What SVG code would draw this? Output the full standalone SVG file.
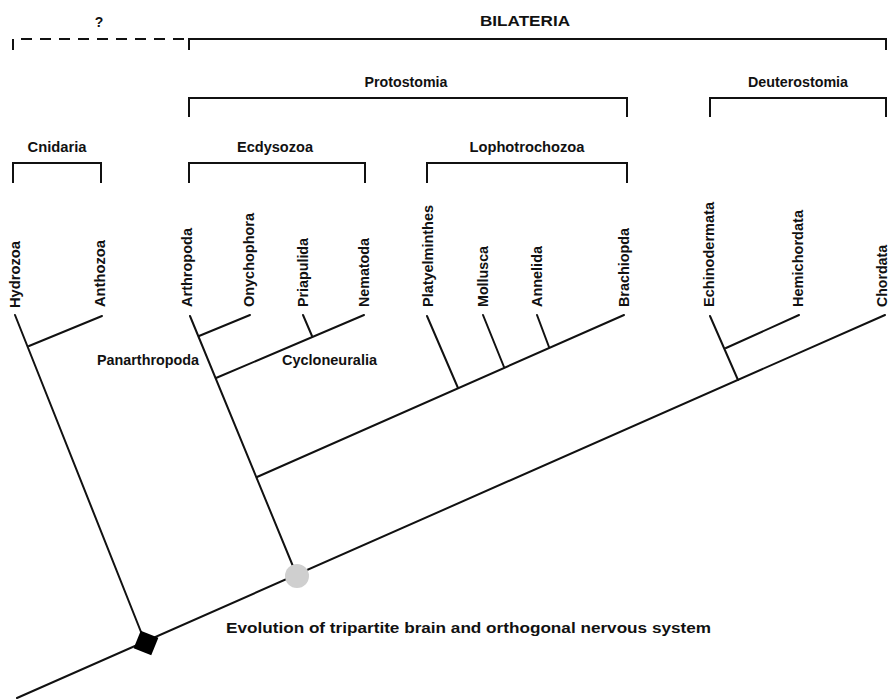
<svg xmlns="http://www.w3.org/2000/svg" width="891" height="700" viewBox="0 0 891 700">
<style>
.t{font-family:"Liberation Sans",Arial,sans-serif;font-weight:bold;font-size:14px;fill:#111}
.b{fill:none;stroke:#111;stroke-width:2}
.e{stroke:#111;stroke-width:2;fill:none;stroke-linecap:round}
</style>
<rect width="891" height="700" fill="#fff"/>
<g id="brackets">
<text class="t" x="99" y="27" text-anchor="middle">?</text>
<path class="b" d="M13,50 V39 H188" stroke-dasharray="11,8"/>
<text class="t" x="525" y="26" text-anchor="middle" font-size="15.5" textLength="90" lengthAdjust="spacingAndGlyphs">BILATERIA</text>
<path class="b" d="M189,50 V39 H886 V50"/>
<text class="t" x="406" y="87" text-anchor="middle" textLength="83" lengthAdjust="spacingAndGlyphs">Protostomia</text>
<path class="b" d="M189,117 V98 H627 V117"/>
<text class="t" x="798" y="87" text-anchor="middle" textLength="100" lengthAdjust="spacingAndGlyphs">Deuterostomia</text>
<path class="b" d="M710,117 V98 H886 V117"/>
<text class="t" x="57" y="152" text-anchor="middle" textLength="59" lengthAdjust="spacingAndGlyphs">Cnidaria</text>
<path class="b" d="M13,183 V163 H101 V183"/>
<text class="t" x="275" y="152" text-anchor="middle" textLength="76" lengthAdjust="spacingAndGlyphs">Ecdysozoa</text>
<path class="b" d="M189,183 V163 H365 V183"/>
<text class="t" x="527" y="152" text-anchor="middle" textLength="115" lengthAdjust="spacingAndGlyphs">Lophotrochozoa</text>
<path class="b" d="M427,183 V163 H627 V183"/>
</g>
<g id="connectors">
<line class="e" x1="17" y1="698" x2="885" y2="315"/>
<line class="e" x1="15" y1="315" x2="145" y2="642"/>
<line class="e" x1="29" y1="346" x2="102" y2="316"/>
<line class="e" x1="190" y1="316" x2="297" y2="576"/>
<line class="e" x1="199" y1="336" x2="250" y2="315"/>
<line class="e" x1="216" y1="378" x2="364" y2="315"/>
<line class="e" x1="312" y1="336" x2="303" y2="315"/>
<line class="e" x1="257" y1="477" x2="624" y2="315"/>
<line class="e" x1="458" y1="388" x2="427" y2="316"/>
<line class="e" x1="504" y1="367" x2="483" y2="315"/>
<line class="e" x1="549" y1="347" x2="537" y2="315"/>
<line class="e" x1="738" y1="380" x2="710" y2="316"/>
<line class="e" x1="726" y1="348" x2="799" y2="315"/>
</g>
<g id="n-cnidaria-root"><rect x="-9.5" y="-9.5" width="19" height="19" fill="#000" transform="translate(146,643) rotate(22)"/></g>
<g id="n-bilateria-root"><circle cx="297" cy="576" r="12" fill="#cfcfcf"/></g>
<g id="taxa">
<text class="t" transform="translate(20,308) rotate(-90)" textLength="67" lengthAdjust="spacingAndGlyphs">Hydrozoa</text>
<text class="t" transform="translate(105,307) rotate(-90)" textLength="67" lengthAdjust="spacingAndGlyphs">Anthozoa</text>
<text class="t" transform="translate(192,307) rotate(-90)" textLength="79" lengthAdjust="spacingAndGlyphs">Arthropoda</text>
<text class="t" transform="translate(254,307) rotate(-90)" textLength="94" lengthAdjust="spacingAndGlyphs">Onychophora</text>
<text class="t" transform="translate(308,307) rotate(-90)" textLength="69" lengthAdjust="spacingAndGlyphs">Priapulida</text>
<text class="t" transform="translate(369,307) rotate(-90)" textLength="69" lengthAdjust="spacingAndGlyphs">Nematoda</text>
<text class="t" transform="translate(433,307) rotate(-90)" textLength="102" lengthAdjust="spacingAndGlyphs">Platyelminthes</text>
<text class="t" transform="translate(488,307) rotate(-90)" textLength="61" lengthAdjust="spacingAndGlyphs">Mollusca</text>
<text class="t" transform="translate(542,307) rotate(-90)" textLength="61" lengthAdjust="spacingAndGlyphs">Annelida</text>
<text class="t" transform="translate(629,307) rotate(-90)" textLength="79" lengthAdjust="spacingAndGlyphs">Brachiopda</text>
<text class="t" transform="translate(714,307) rotate(-90)" textLength="105" lengthAdjust="spacingAndGlyphs">Echinodermata</text>
<text class="t" transform="translate(803,307) rotate(-90)" textLength="97" lengthAdjust="spacingAndGlyphs">Hemichordata</text>
<text class="t" transform="translate(887,307) rotate(-90)" textLength="62" lengthAdjust="spacingAndGlyphs">Chordata</text>
</g>
<g id="labels">
<text class="t" x="97" y="365" textLength="102" lengthAdjust="spacingAndGlyphs">Panarthropoda</text>
<text class="t" x="282" y="365" textLength="95" lengthAdjust="spacingAndGlyphs">Cycloneuralia</text>
<text class="t" x="226" y="633" font-size="15" textLength="485" lengthAdjust="spacingAndGlyphs">Evolution of tripartite brain and orthogonal nervous system</text>
</g>
</svg>
